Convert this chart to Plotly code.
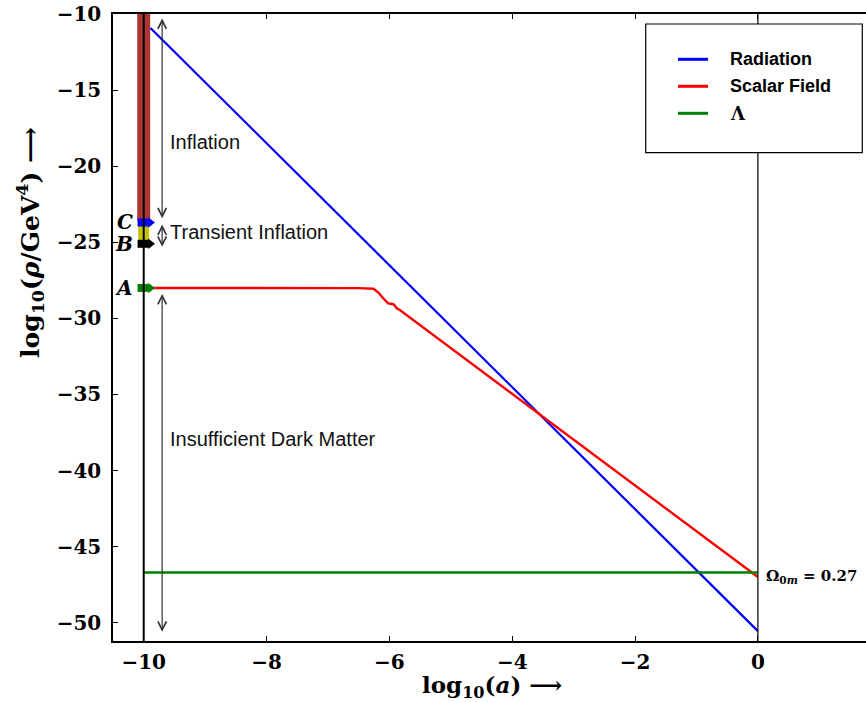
import plotly.graph_objects as go

# ---------------- data ----------------
rad_x = [-9.89, 0.0]
rad_y = [-10.92, -50.55]

sf_x = [-10.0, -7.0, -6.5, -6.26, -6.18, -6.10, -6.02, -5.93, -5.88, -5.83, -4.99, 0.0]
sf_y = [-28.0, -28.0, -28.01, -28.05, -28.3, -28.68, -29.01, -29.08, -29.34, -29.45, -31.97, -47.0]

lam_x = [-10.0, 0.0]
lam_y = [-46.7, -46.7]

a_init = -10.0
inflation_band = [-10.0, -23.6]
transient_band = [-23.6, -25.3]
point_labels = ["C", "B", "A"]
point_y = [-23.7, -25.1, -28.0]
point_colors = ["blue", "black", "green"]

arrow_x = -9.70
regions = ["Inflation", "Transient Inflation", "Insufficient Dark Matter"]
region_span = [(-10.2, -23.42), (-23.74, -25.3), (-28.3, -50.6)]
region_text_y = [-18.4, -24.3, -37.9]

x_ticks = [-10, -8, -6, -4, -2, 0]
y_ticks = [-50, -45, -40, -35, -30, -25, -20, -15, -10]
x_range = [-10.5, 1.76]
y_range = [-51.2, -10.0]

legend_names = ["Radiation", "Scalar Field", "Λ"]
legend_colors = ["blue", "red", "green"]

# --------------- figure ----------------
L, T, R, B = 113, 14, 866, 641
W, H = R - L, B - T


def px(xp):
    return (xp - L) / W


def py(yp):
    return (B - yp) / H


fig = go.Figure()

# brown inflation band and yellow transient band
fig.add_trace(go.Scatter(x=[a_init, a_init], y=inflation_band, mode="lines",
                         line=dict(color="rgba(165,42,42,0.95)", width=13), showlegend=False, hoverinfo="skip"))
fig.add_trace(go.Scatter(x=[a_init, a_init], y=transient_band, mode="lines",
                         line=dict(color="#c4c400", width=11), showlegend=False, hoverinfo="skip"))

fig.add_trace(go.Scatter(x=rad_x, y=rad_y, mode="lines", name="Radiation",
                         line=dict(color="blue", width=2.2), showlegend=False))
fig.add_trace(go.Scatter(x=sf_x, y=sf_y, mode="lines", name="Scalar Field",
                         line=dict(color="red", width=2.4), showlegend=False))
fig.add_trace(go.Scatter(x=lam_x, y=lam_y, mode="lines", name="Λ",
                         line=dict(color="green", width=2.5), showlegend=False))

# points A, B, C (flat marker with pointed right end)
for lab, yv, c in zip(point_labels, point_y, point_colors):
    fig.add_trace(go.Scatter(x=[a_init - 0.10, a_init + 0.08], y=[yv, yv], mode="lines",
                             line=dict(color=c, width=8), showlegend=False, hoverinfo="skip"))
    fig.add_trace(go.Scatter(x=[a_init + 0.11], y=[yv], mode="markers",
                             marker=dict(symbol="triangle-right", size=9, color=c, line=dict(width=0)),
                             showlegend=False, hoverinfo="skip"))
    fig.add_annotation(x=px(135), xref="paper", y=yv, yref="y", text="<i>" + lab + "</i>",
                       showarrow=False, xanchor="right", yanchor="middle",
                       font=dict(family="DejaVu Serif", size=20, color="black", weight="bold"))

# vertical lines
fig.add_shape(type="line", x0=a_init, x1=a_init, y0=0, y1=1, xref="x", yref="paper",
              line=dict(color="black", width=2))
fig.add_shape(type="line", x0=0, x1=0, y0=0, y1=1, xref="x", yref="paper",
              line=dict(color="black", width=1.2))

# double arrows and region labels
for name, (y0, y1), ty in zip(regions, region_span, region_text_y):
    fig.add_annotation(x=arrow_x, y=y1, ax=arrow_x, ay=y0, xref="x", yref="y", axref="x", ayref="y",
                       text="", showarrow=True, arrowhead=5, startarrowhead=5, arrowside="end+start",
                       arrowsize=1.4, startarrowsize=1.4, arrowwidth=1.2, arrowcolor="#333333",
                       standoff=0, startstandoff=0)
    fig.add_annotation(x=px(168), xref="paper", y=ty, yref="y", text=name, showarrow=False,
                       xanchor="left", yanchor="middle",
                       font=dict(family="Liberation Sans", size=20, color="#111111"))

# Omega label
fig.add_annotation(x=px(764), xref="paper", y=py(576), yref="paper",
                   text="Ω<sub>0<i>m</i></sub> = 0.27", showarrow=False, xanchor="left", yanchor="middle",
                   font=dict(family="DejaVu Serif", size=15, color="black", weight="bold"))

# legend (drawn box)
fig.add_shape(type="rect", xref="paper", yref="paper", x0=px(645.7), x1=px(862.3), y0=py(152.7), y1=py(24),
              line=dict(color="black", width=1.2), fillcolor="white", layer="above")
for i, (nm, col) in enumerate(zip(legend_names, legend_colors)):
    yy = py(59.3 + i * 27)
    fig.add_shape(type="line", xref="paper", yref="paper", x0=px(678), x1=px(708), y0=yy, y1=yy,
                  line=dict(color=col, width=3), layer="above")
    fam = "DejaVu Serif" if nm == "Λ" else "Liberation Sans"
    fig.add_annotation(x=px(728), xref="paper", y=yy, yref="paper", text=nm, showarrow=False,
                       xanchor="left", yanchor="middle",
                       font=dict(family=fam, size=18, color="black", weight="bold"))

# axis titles
fig.add_annotation(x=px(492), xref="paper", y=py(686), yref="paper", xanchor="center", yanchor="middle",
                   text="log<sub>10</sub>(<i>a</i>) ⟶", showarrow=False,
                   font=dict(family="DejaVu Serif", size=23, color="black", weight="bold"))
fig.add_annotation(x=px(30), xref="paper", y=py(243), yref="paper", xanchor="center", yanchor="middle",
                   text="log<sub>10</sub>(<i>ρ</i>/GeV<sup>4</sup>) ⟶", showarrow=False, textangle=-90,
                   font=dict(family="DejaVu Serif", size=25, color="black", weight="bold"))

tickfont = dict(family="DejaVu Serif", size=20, color="black", weight="bold")
fig.update_layout(
    width=866, height=702,
    margin=dict(l=L, r=866 - R, t=T, b=702 - B, autoexpand=False),
    plot_bgcolor="white", paper_bgcolor="white",
    showlegend=False,
    xaxis=dict(range=x_range, tickvals=x_ticks, ticks="inside", ticklen=5, tickcolor="black",
               showline=True, linecolor="black", linewidth=1.5, mirror="ticks", showgrid=False,
               zeroline=False, tickfont=tickfont, ticklabelstandoff=2),
    yaxis=dict(range=y_range, tickvals=y_ticks, ticks="inside", ticklen=5, tickcolor="black",
               showline=True, linecolor="black", linewidth=1.5, mirror=False, showgrid=False,
               zeroline=False, tickfont=tickfont, ticklabelstandoff=6),
)

fig.write_html("out.html", config={"displayModeBar": False},
               post_script="document.body.style.margin='0';document.body.style.overflow='hidden';"
                           "document.documentElement.style.overflow='hidden';")
